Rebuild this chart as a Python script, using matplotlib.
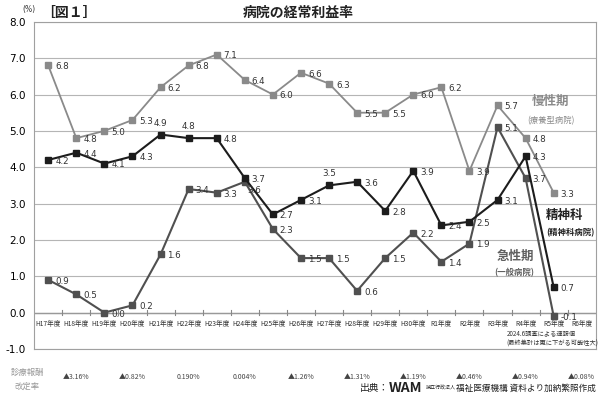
import matplotlib
matplotlib.use('Agg')
import matplotlib.pyplot as plt
import numpy as np

plt.rcParams['font.family'] = ['Noto Sans CJK JP', 'DejaVu Sans']

# fiscal years
years = ['H17年度', 'H18年度', 'H19年度', 'H20年度', 'H21年度', 'H22年度', 'H23年度',
         'H24年度', 'H25年度', 'H26年度', 'H27年度', 'H28年度', 'H29年度', 'H30年度',
         'R1年度', 'R2年度', 'R3年度', 'R4年度', 'R5年度', 'R6年度']

# 経常利益率 (%)
chronic = [6.8, 4.8, 5.0, 5.3, 6.2, 6.8, 7.1, 6.4, 6.0, 6.6, 6.3, 5.5, 5.5, 6.0, 6.2, 3.9, 5.7, 4.8, 3.3]
psych = [4.2, 4.4, 4.1, 4.3, 4.9, 4.8, 4.8, 3.7, 2.7, 3.1, 3.5, 3.6, 2.8, 3.9, 2.4, 2.5, 3.1, 4.3, 0.7]
acute = [0.9, 0.5, 0.0, 0.2, 1.6, 3.4, 3.3, 3.6, 2.3, 1.5, 1.5, 0.6, 1.5, 2.2, 1.4, 1.9, 5.1, 3.7, -0.1]

# 診療報酬改定率 (revision years)
rev_years = ['H18年度', 'H20年度', 'H22年度', 'H24年度', 'H26年度', 'H28年度',
             'H30年度', 'R2年度', 'R4年度', 'R6年度']
rev_rates = ['▲3.16%', '▲0.82%', '0.190%', '0.004%', '▲1.26%', '▲1.31%',
             '▲1.19%', '▲0.46%', '▲0.94%', '▲0.08%']

# labels placed above / below the marker instead of right
above_psych = {4, 5, 10}
below_acute = {7}

fig = plt.figure(figsize=(6, 3.97), dpi=100)
ax = fig.add_axes([0.057, 0.121, 0.936, 0.824])

x = np.arange(len(years))
c_chronic = '#8a8a8a'
c_psych = '#1c1c1c'
c_acute = '#505050'

ax.plot(x[:len(chronic)], chronic, color=c_chronic, lw=1.3, marker='s', ms=4.2, zorder=3)
ax.plot(x[:len(acute)], acute, color=c_acute, lw=1.5, marker='s', ms=4.2, zorder=4)
ax.plot(x[:len(psych)], psych, color=c_psych, lw=1.5, marker='s', ms=4.2, zorder=5)

def label(vals, above=(), below=()):
    for i, v in enumerate(vals):
        if i in above:
            off, ha, va = (0, 5), 'center', 'bottom'
        elif i in below:
            off, ha, va = (2, -6), 'left', 'center'
        else:
            off, ha, va = (5, -1), 'left', 'center'
        ax.annotate('%.1f' % v, (i, v), xytext=off, textcoords='offset points',
                    ha=ha, va=va, fontsize=6.3, color='#333333',
                    family='DejaVu Sans', zorder=6)

label(chronic)
label(psych, above=above_psych)
label(acute, below=below_acute)

ax.set_xlim(-0.5, len(years) - 0.5)
ax.set_ylim(-1.0, 8.0)
ax.set_yticks(np.arange(-1, 9))
ax.set_yticklabels(['%.1f' % t for t in np.arange(-1, 9)], fontsize=7.5, family='DejaVu Sans')
ax.tick_params(axis='y', length=0, pad=6)
ax.set_xticks([])
ax.grid(axis='y', color='#b5b5b5', lw=0.8)
ax.set_axisbelow(True)
for s in ax.spines.values():
    s.set_color('#a0a0a0')
    s.set_linewidth(0.8)

# zero line with category ticks and labels
ax.axhline(0, color='#999999', lw=1.0, zorder=1)
for b in np.arange(0.5, len(years) - 1, 1.0):
    ax.plot([b, b], [-0.07, 0.07], color='#888888', lw=0.8, zorder=1)
for i, yl in enumerate(years):
    ax.annotate(yl, (i, 0), xytext=(0, -5), textcoords='offset points',
                ha='center', va='top', fontsize=4.8, color='#333333')

ax.text(-0.45, 8.22, '(%)', fontsize=5.5, color='#333333', ha='right', va='bottom',
        family='DejaVu Sans')
fig.text(0.068, 0.967, '［図１］', fontsize=10, fontweight='bold', va='center', color='#222222')
fig.text(0.497, 0.968, '病院の経常利益率', fontsize=10, fontweight='bold', ha='center', va='center',
         color='#222222')

# series names
ax.text(17.9, 5.8, '慢性期', fontsize=9, fontweight='bold', color='#8a8a8a', ha='center', va='center')
ax.text(17.9, 5.28, '(療養型病院)', fontsize=6, color='#8a8a8a', ha='center', va='center')
ax.text(18.4, 2.68, '精神科', fontsize=9, fontweight='bold', color='#222222', ha='center', va='center')
ax.text(18.6, 2.2, '(精神科病院)', fontsize=6, fontweight='bold', color='#222222', ha='center', va='center')
ax.text(16.65, 1.55, '急性期', fontsize=9, fontweight='bold', color='#606060', ha='center', va='center')
ax.text(16.6, 1.1, '(一般病院)', fontsize=6, fontweight='bold', color='#606060', ha='center', va='center')
ax.text(17.55, -0.63, '2024.6調査による速報値', fontsize=4.5, color='#333333', ha='center')
ax.text(17.95, -0.9, '(最終集計は更に下がる可能性大)', fontsize=4.5, color='#333333', ha='center')

# revision rates below the chart
for yr, r in zip(rev_years, rev_rates):
    xi = years.index(yr)
    ax.text(xi, -0.085, r, transform=ax.get_xaxis_transform(), fontsize=5,
            color='#444444', ha='center', va='center')
fig.text(0.045, 0.063, '診療報酬', fontsize=6, color='#999999', ha='center', va='center')
fig.text(0.045, 0.028, '改定率', fontsize=6, color='#999999', ha='center', va='center')

fig.text(0.6, 0.022, '出典：', fontsize=7, color='#222222', va='center')
fig.text(0.648, 0.022, 'WAM', fontsize=10, fontweight='bold', color='#222222', va='center')
fig.text(0.71, 0.022, '独立行政法人', fontsize=3.6, color='#222222', va='center')
fig.text(0.76, 0.022, '福祉医療機構 資料より加納繁照作成', fontsize=6.2, color='#222222', va='center')

fig.savefig('out.png', dpi=100, facecolor='white')
